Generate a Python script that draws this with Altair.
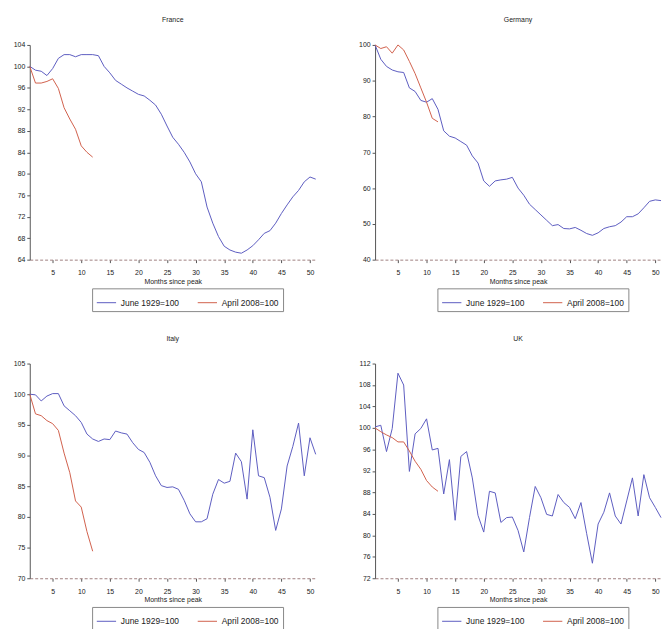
import altair as alt
import pandas as pd

months = list(range(1, 52))
series_names = ["June 1929=100", "April 2008=100"]

france_1929 = [100, 99.3, 99.1, 98.3, 99.6, 101.5, 102.2, 102.2, 101.8, 102.2,
               102.2, 102.2, 102.0, 100.0, 98.8, 97.4, 96.7, 96.0, 95.4, 94.8,
               94.5, 93.7, 92.8, 91.1, 88.9, 86.8, 85.5, 84.0, 82.2, 80.0,
               78.5, 73.8, 70.8, 68.3, 66.5, 65.8, 65.4, 65.2, 65.8, 66.6,
               67.7, 68.9, 69.4, 70.8, 72.6, 74.2, 75.7, 76.9, 78.5, 79.4, 79.0]
france_2008 = [100, 96.9, 96.9, 97.2, 97.7, 95.9, 92.3, 90.2, 88.3, 85.2, 84.0, 83.1]

germany_1929 = [100, 96, 94, 93, 92.5, 92.3, 88, 87, 84.5, 84,
                85, 82, 76, 74.5, 74, 73, 72, 69, 67, 62,
                60.5, 62, 62.3, 62.5, 63, 60, 58, 55.5, 54, 52.5,
                51, 49.5, 49.8, 48.7, 48.6, 49, 48.2, 47.3, 46.8, 47.5,
                48.7, 49.2, 49.5, 50.5, 52, 52, 52.8, 54.5, 56.3, 56.7, 56.5]
germany_2008 = [100, 99, 99.5, 97.7, 100, 98.6, 95.4, 92, 88, 84, 79.5, 78.5]

italy_1929 = [100, 99.9, 98.9, 99.7, 100.1, 100.1, 98.1, 97.3, 96.5, 95.4,
              93.5, 92.7, 92.3, 92.7, 92.6, 94, 93.7, 93.5, 92.1, 91,
              90.5, 88.9, 86.7, 85.1, 84.8, 84.9, 84.5, 82.7, 80.5, 79.2,
              79.2, 79.7, 83.7, 86.1, 85.5, 85.8, 90.4, 89, 82.9, 94.2,
              86.7, 86.4, 83.2, 77.8, 81.3, 88.3, 91.5, 95.3, 86.7, 92.9, 90.2]
italy_2008 = [100, 96.8, 96.5, 95.7, 95.2, 94.1, 90.4, 87.2, 82.6, 81.6, 77.6, 74.4]

uk_1929 = [100.2, 100.5, 95.6, 99.9, 110.2, 108, 91.9, 98.9, 99.9, 101.7,
           95.9, 96.2, 87.7, 94.1, 82.8, 94.7, 95.6, 90.7, 83.7, 80.6,
           88.2, 87.9, 82.4, 83.3, 83.4, 80.9, 76.9, 83.3, 89.1, 87,
           83.9, 83.6, 87.6, 86.1, 85.2, 83.1, 86.1, 80.3, 74.8, 82.1,
           84.3, 87.9, 83.6, 82.1, 86.4, 90.7, 83.6, 91.3, 87, 85.2, 83.3]
uk_2008 = [100, 99.3, 98.7, 98.2, 97.4, 97.4, 95.7, 93.8, 92.3, 90.2, 89, 88.2]

rows = []
for country, s29, s08 in [("France", france_1929, france_2008),
                          ("Germany", germany_1929, germany_2008),
                          ("Italy", italy_1929, italy_2008),
                          ("UK", uk_1929, uk_2008)]:
    for m, v in zip(months, s29):
        rows.append(dict(country=country, month=m, series=series_names[0], order=0, value=v))
    for m, v in zip(months, s08):
        rows.append(dict(country=country, month=m, series=series_names[1], order=1, value=v))
df = pd.DataFrame(rows)

BLUE = "#5c5cc0"
RED = "#d0604c"


def panel(country, ymin, ymax, step):
    return alt.Chart(df).transform_filter(
        alt.datum.country == country
    ).mark_line(strokeWidth=1).encode(
        x=alt.X("month:Q", scale=alt.Scale(domain=[1, 51], nice=False, zero=False),
                axis=alt.Axis(values=list(range(5, 51, 5)), title="Months since peak",
                              domainDash=[3, 2], domainColor="#a08080",
                              labelPadding=6)),
        y=alt.Y("value:Q", scale=alt.Scale(domain=[ymin, ymax], nice=False, zero=False),
                axis=alt.Axis(values=list(range(ymin, ymax + 1, step)), title=None)),
        color=alt.Color("series:N",
                        scale=alt.Scale(domain=series_names, range=[BLUE, RED]),
                        legend=alt.Legend(orient="none", legendX=63, legendY=246,
                                          direction="horizontal", title=None,
                                          symbolType="stroke", symbolSize=380,
                                          symbolStrokeWidth=1, labelFontSize=8.5,
                                          strokeColor="#888", padding=4,
                                          columnPadding=16, labelColor="#222")),
        order="order:Q",
    ).properties(width=289, height=217, title=country)


chart = alt.concat(
    panel("France", 64, 104, 4),
    panel("Germany", 40, 100, 10),
    panel("Italy", 70, 105, 5),
    panel("UK", 72, 112, 4),
    columns=2,
    spacing={"row": 105, "column": 60},
    bounds="flush",
).resolve_legend(color="independent").resolve_scale(color="independent").configure_view(
    stroke=None
).configure_axis(
    labelFontSize=7, titleFontSize=7, titleFontWeight="normal", grid=False,
    tickSize=3, domainColor="#555", tickColor="#555", labelColor="#222",
    titleColor="#222", labelFont="Liberation Sans", titleFont="Liberation Sans",
    titlePadding=2, labelPadding=2,
).configure_title(
    fontSize=7, fontWeight="normal", color="#222", offset=18, font="Liberation Sans"
).configure_legend(
    labelFont="Liberation Sans"
).properties(padding={"left": 5, "top": 5, "right": 0, "bottom": 0})

chart.save("out.html", embed_options={"renderer": "svg", "actions": False})
